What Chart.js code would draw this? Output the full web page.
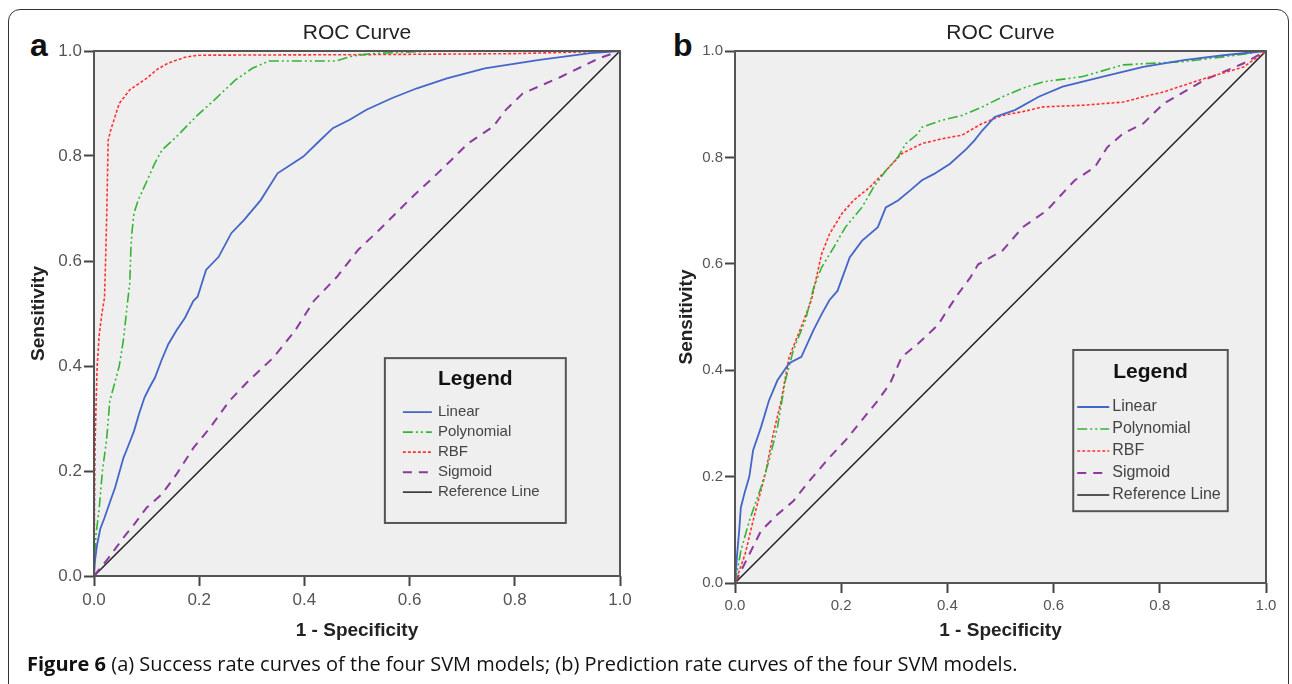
<!DOCTYPE html>
<html>
<head>
<meta charset="utf-8">
<script src="https://cdn.jsdelivr.net/npm/chart.js@4.4.0/dist/chart.umd.min.js"></script>
<style>
  html, body { margin: 0; padding: 0; background: #fff; }
  body { width: 1292px; height: 684px; position: relative; overflow: hidden; font-family: "Liberation Sans", Arial, sans-serif; }
  .frame { position: absolute; left: 8px; top: 9px; width: 1281px; height: 740px; border: 1.5px solid #333; border-radius: 12px; box-sizing: border-box; }
  canvas { position: absolute; top: 0; }
  #chartA { left: 0; }
  #chartB { left: 660px; }
  .tag { position: absolute; top: 29px; font-weight: bold; font-size: 32px; line-height: 32px; color: #111; }
  .caption { position: absolute; left: 27px; top: 652px; font-family: "Open Sans", sans-serif; font-size: 20px; line-height: 24px; color: #111; white-space: nowrap; }
</style>
</head>
<body>
<div class="frame"></div>
<div class="tag" style="left:30px">a</div>
<div class="tag" style="left:673px">b</div>
<canvas id="chartA" width="660" height="684"></canvas>
<canvas id="chartB" width="632" height="684"></canvas>
<div class="caption"><b>Figure 6</b> (a) Success rate curves of the four SVM models; (b) Prediction rate curves of the four SVM models.</div>

<script>
(function () {
  // tick values shared by both axes
  const tickVals = [0, 0.2, 0.4, 0.6, 0.8, 1.0];
  const seriesNames = ['Linear', 'Polynomial', 'RBF', 'Sigmoid', 'Reference Line'];

  // (a) success rate, [1 - specificity, sensitivity]
  const aLinear = [[0,0],[0.002,0.03],[0.006,0.06],[0.012,0.09],[0.02,0.111],[0.03,0.14],[0.04,0.168],[0.056,0.225],[0.066,0.25],[0.076,0.276],[0.086,0.31],[0.096,0.34],[0.106,0.36],[0.116,0.378],[0.128,0.41],[0.141,0.441],[0.157,0.468],[0.173,0.492],[0.189,0.524],[0.197,0.532],[0.213,0.583],[0.237,0.608],[0.261,0.653],[0.285,0.678],[0.317,0.716],[0.349,0.767],[0.398,0.799],[0.43,0.83],[0.454,0.853],[0.486,0.869],[0.518,0.888],[0.566,0.91],[0.614,0.929],[0.671,0.948],[0.743,0.967],[0.847,0.983],[0.944,0.996],[1,1]];
  const aPoly = [[0,0],[0.002,0.05],[0.004,0.08],[0.01,0.13],[0.016,0.2],[0.024,0.26],[0.03,0.333],[0.04,0.37],[0.048,0.4],[0.056,0.45],[0.064,0.524],[0.068,0.557],[0.07,0.62],[0.072,0.653],[0.076,0.691],[0.084,0.716],[0.1,0.751],[0.115,0.785],[0.129,0.811],[0.157,0.837],[0.197,0.878],[0.229,0.907],[0.269,0.945],[0.301,0.967],[0.333,0.981],[0.46,0.981],[0.49,0.99],[0.526,0.995],[0.65,1],[1,1]];
  const aRbf = [[0,0],[0.001,0.14],[0.002,0.25],[0.004,0.33],[0.006,0.4],[0.01,0.46],[0.015,0.5],[0.02,0.53],[0.022,0.6],[0.024,0.68],[0.026,0.78],[0.027,0.83],[0.032,0.85],[0.04,0.875],[0.048,0.9],[0.068,0.926],[0.1,0.948],[0.12,0.965],[0.141,0.977],[0.173,0.988],[0.197,0.992],[0.5,0.993],[0.8,0.995],[1,1]];
  const aSigmoid = [[0,0],[0.028,0.035],[0.056,0.073],[0.076,0.098],[0.1,0.13],[0.129,0.156],[0.157,0.194],[0.189,0.244],[0.221,0.283],[0.257,0.333],[0.293,0.371],[0.341,0.416],[0.382,0.467],[0.418,0.524],[0.462,0.57],[0.502,0.621],[0.542,0.659],[0.574,0.691],[0.606,0.723],[0.647,0.761],[0.679,0.792],[0.711,0.824],[0.759,0.856],[0.783,0.888],[0.815,0.919],[0.888,0.951],[0.96,0.986],[1,1]];

  // (b) prediction rate
  const bLinear = [[0,0],[0.004,0.054],[0.008,0.1],[0.011,0.142],[0.019,0.173],[0.027,0.2],[0.034,0.249],[0.049,0.293],[0.064,0.343],[0.08,0.381],[0.102,0.413],[0.125,0.425],[0.148,0.476],[0.163,0.505],[0.178,0.532],[0.193,0.549],[0.216,0.612],[0.239,0.643],[0.269,0.669],[0.284,0.706],[0.307,0.719],[0.33,0.738],[0.352,0.757],[0.375,0.769],[0.405,0.788],[0.436,0.816],[0.451,0.832],[0.466,0.851],[0.489,0.876],[0.527,0.889],[0.572,0.914],[0.617,0.933],[0.693,0.952],[0.769,0.97],[0.845,0.983],[0.92,0.992],[1,1]];
  const bPoly = [[0,0],[0.011,0.06],[0.027,0.117],[0.049,0.18],[0.064,0.23],[0.08,0.293],[0.095,0.381],[0.11,0.438],[0.133,0.495],[0.148,0.555],[0.163,0.593],[0.186,0.631],[0.208,0.669],[0.239,0.706],[0.261,0.744],[0.284,0.775],[0.307,0.801],[0.322,0.826],[0.345,0.845],[0.352,0.857],[0.39,0.87],[0.428,0.879],[0.466,0.895],[0.504,0.914],[0.542,0.93],[0.58,0.942],[0.655,0.952],[0.731,0.974],[0.845,0.98],[0.92,0.989],[1,1]];
  const bRbf = [[0,0],[0.019,0.054],[0.034,0.117],[0.057,0.205],[0.072,0.28],[0.087,0.343],[0.102,0.425],[0.125,0.482],[0.144,0.532],[0.163,0.618],[0.178,0.656],[0.201,0.694],[0.223,0.719],[0.254,0.744],[0.284,0.775],[0.314,0.807],[0.352,0.826],[0.39,0.835],[0.428,0.842],[0.466,0.864],[0.504,0.879],[0.542,0.886],[0.58,0.895],[0.655,0.898],[0.731,0.904],[0.769,0.914],[0.807,0.923],[0.883,0.948],[0.958,0.97],[1,1]];
  const bSigmoid = [[0,0],[0.027,0.054],[0.049,0.098],[0.08,0.129],[0.11,0.154],[0.14,0.192],[0.178,0.236],[0.208,0.268],[0.239,0.306],[0.269,0.343],[0.292,0.375],[0.314,0.425],[0.345,0.45],[0.383,0.486],[0.398,0.51],[0.42,0.543],[0.443,0.574],[0.458,0.599],[0.504,0.625],[0.542,0.669],[0.587,0.7],[0.61,0.725],[0.64,0.757],[0.678,0.782],[0.701,0.819],[0.731,0.845],[0.769,0.864],[0.807,0.901],[0.83,0.914],[0.883,0.945],[0.958,0.977],[1,1]];

  const refLine = [[0,0],[1,1]];

  const FONT = '"Liberation Sans", Arial, sans-serif';
  const styles = [
    { color: '#4466c8', dash: [], width: 1.8 },
    { color: '#33b533', dash: [10, 3, 2, 3, 2, 3], width: 1.6 },
    { color: '#ff3333', dash: [3, 2], width: 1.6 },
    { color: '#8c3a9e', dash: [9, 7], width: 2 },
    { color: '#222222', dash: [], width: 1.5 }
  ];

  // plot background, frame, title and the boxed legend inside the plot
  const panelPlugin = {
    id: 'panel',
    beforeDraw(chart, args, o) {
      const { ctx, chartArea: a } = chart;
      ctx.save();
      ctx.fillStyle = o.bg;
      ctx.fillRect(a.left, a.top, a.right - a.left, a.bottom - a.top);
      ctx.restore();
    },
    afterDatasetsDraw(chart, args, o) {
      const { ctx, chartArea: a, scales } = chart;
      ctx.save();
      ctx.strokeStyle = '#555';
      ctx.lineWidth = 2;
      ctx.strokeRect(a.left, a.top, a.right - a.left, a.bottom - a.top);

      ctx.fillStyle = '#222';
      ctx.font = '21px ' + FONT;
      ctx.textAlign = 'center';
      ctx.textBaseline = 'middle';
      ctx.fillText(o.title, (a.left + a.right) / 2, a.top - 18);

      const L = o.legend;
      const x0 = scales.x.getPixelForValue(L.box[0]);
      const x1 = scales.x.getPixelForValue(L.box[2]);
      const y0 = scales.y.getPixelForValue(L.box[1]);
      const y1 = scales.y.getPixelForValue(L.box[3]);
      ctx.fillStyle = o.bg;
      ctx.fillRect(x0, y0, x1 - x0, y1 - y0);
      ctx.strokeStyle = '#555';
      ctx.lineWidth = 2;
      ctx.strokeRect(x0, y0, x1 - x0, y1 - y0);

      ctx.fillStyle = '#111';
      ctx.font = 'bold 21px ' + FONT;
      ctx.fillText('Legend', (x0 + x1) / 2, y0 + L.titleDy);

      chart.data.datasets.forEach((ds, i) => {
        const yy = y0 + L.rowDy + i * L.rowGap;
        ctx.strokeStyle = ds.borderColor;
        ctx.lineWidth = ds.borderWidth;
        ctx.setLineDash(ds.borderDash || []);
        ctx.beginPath();
        ctx.moveTo(x0 + L.lineDx, yy);
        ctx.lineTo(x0 + L.lineDx + L.lineLen, yy);
        ctx.stroke();
        ctx.setLineDash([]);
        ctx.fillStyle = '#444';
        ctx.textAlign = 'left';
        ctx.font = L.fontSize + 'px ' + FONT;
        ctx.fillText(ds.label, x0 + L.textDx, yy);
      });
      ctx.restore();
    }
  };

  function axis(cfg, isX) {
    return {
      type: 'linear',
      min: 0,
      max: 1,
      afterBuildTicks: (s) => { s.ticks = tickVals.map((v) => ({ value: v })); },
      afterFit: (s) => { if (isX) s.height = cfg.xh; else s.width = cfg.yw; },
      ticks: {
        callback: (v) => Number(v).toFixed(1),
        color: '#555',
        font: { family: FONT, size: cfg.tickSize },
        padding: isX ? 4 : 2,
        maxRotation: 0,
        autoSkip: false
      },
      grid: { display: true, drawOnChartArea: false, drawTicks: true, tickLength: 10, tickColor: '#444', tickWidth: 2 },
      border: { display: false },
      title: {
        display: true,
        text: isX ? '1 - Specificity' : 'Sensitivity',
        color: '#222',
        font: { family: FONT, size: 19, weight: 'bold' },
        padding: 0
      }
    };
  }

  function makeChart(id, cfg) {
    return new Chart(document.getElementById(id), {
      type: 'line',
      data: {
        datasets: cfg.series.map((pts, i) => ({
          label: seriesNames[i],
          data: pts.map((p) => ({ x: p[0], y: p[1] })),
          borderColor: styles[i].color,
          borderDash: styles[i].dash,
          borderWidth: styles[i].width,
          pointRadius: 0,
          tension: 0,
          fill: false,
          clip: 3
        }))
      },
      options: {
        responsive: false,
        animation: false,
        events: [],
        layout: { padding: cfg.pad },
        plugins: {
          legend: { display: false },
          tooltip: { enabled: false },
          panel: { bg: '#efefef', title: 'ROC Curve', legend: cfg.legend }
        },
        scales: { x: axis(cfg, true), y: axis(cfg, false) }
      },
      plugins: [panelPlugin]
    });
  }

  makeChart('chartA', {
    series: [aLinear, aPoly, aRbf, aSigmoid, refLine],
    pad: { top: 51, left: 27, right: 40, bottom: 42 },
    yw: 67, xh: 66, tickSize: 17,
    legend: { box: [0.553, 0.415, 0.897, 0.101], titleDy: 21, rowDy: 54, rowGap: 20, lineDx: 18, lineLen: 29, textDx: 53, fontSize: 15 }
  });

  makeChart('chartB', {
    series: [bLinear, bPoly, bRbf, bSigmoid, refLine],
    pad: { top: 51, left: 15, right: 26, bottom: 42 },
    yw: 60, xh: 59, tickSize: 15,
    legend: { box: [0.637, 0.438, 0.928, 0.135], titleDy: 22, rowDy: 57, rowGap: 22, lineDx: 4, lineLen: 32, textDx: 39, fontSize: 16 }
  });
})();
</script>
</body>
</html>
